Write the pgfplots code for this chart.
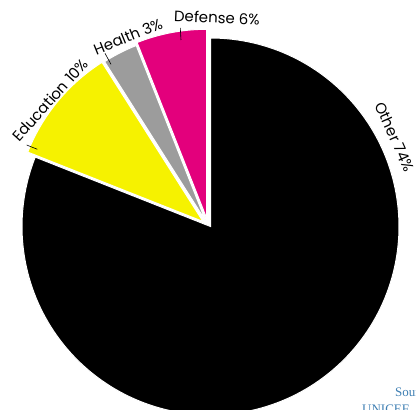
\documentclass[border=0pt]{standalone}
\usepackage{pgfplots}
\pgfplotsset{compat=1.18}
\usepackage{fontspec}
\setmainfont{Poppins}
\newfontfamily\srcfont{Liberation Serif}
\definecolor{pyellow}{HTML}{F6F200}
\definecolor{pmagenta}{HTML}{E3007C}
\definecolor{pgray}{HTML}{9C9C9C}
\definecolor{psrc}{HTML}{3F7FB3}
% shares of the pie (percent of the full circle as drawn)
\def\vDef{6}
\def\vHea{3}
\def\vEdu{10}
\pgfmathsetmacro{\aA}{90}
\pgfmathsetmacro{\aB}{\aA+3.6*\vDef}
\pgfmathsetmacro{\aC}{\aB+3.6*\vHea}
\pgfmathsetmacro{\aD}{\aC+3.6*\vEdu}
\pgfmathsetmacro{\aE}{450}
\def\R{188.5}
\begin{document}
\begin{tikzpicture}
\begin{axis}[
  width=416pt, height=410pt, scale only axis,
  xmin=0, xmax=416, ymin=0, ymax=410,
  hide axis, clip=true,
]
% Other (black)
\addplot[fill=black, draw=white, line width=1pt, domain=\aD:\aE, samples=180, variable=\t]
  ({210.5+\R*cos(\t)},{183.5+\R*sin(\t)}) -- (210.5,183.5) -- cycle;
% Defense (magenta)
\addplot[fill=pmagenta, draw=white, line width=1pt, domain=\aA:\aB, samples=40, variable=\t]
  ({206.5+\R*cos(\t)},{192.2+\R*sin(\t)}) -- (206.5,192.2) -- cycle;
% Health (gray)
\addplot[fill=pgray, draw=white, line width=1pt, domain=\aB:\aC, samples=30, variable=\t]
  ({205.6+\R*cos(\t)},{189.2+\R*sin(\t)}) -- (205.6,189.2) -- cycle;
% Education (yellow)
\addplot[fill=pyellow, draw=white, line width=1pt, domain=\aC:\aD, samples=50, variable=\t]
  ({203+\R*cos(\t)},{188.5+\R*sin(\t)}) -- (203,188.5) -- cycle;
% leader lines
\addplot[black, line width=0.6pt] coordinates {(26.7,265) (37.3,260.7)};
\addplot[black, line width=0.6pt] coordinates {(105,356.7) (111,345.7)};
\addplot[black, line width=0.6pt] coordinates {(180.3,382) (181,370)};
% labels
\node[rotate=-2.5, font=\fontsize{15}{17}\selectfont] at (217,392.5) {Defense 6\%};
\node[rotate=22, font=\fontsize{15}{17}\selectfont] at (128,373.5) {Health 3\%};
\node[rotate=48, font=\fontsize{15}{17}\selectfont] at (50,310) {Education 10\%};
\node[rotate=-66, font=\fontsize{15}{17}\selectfont] at (395,273) {Other 74\%};
% source
\node[anchor=base west, text=psrc, font=\srcfont\fontsize{13}{15}\selectfont, inner sep=0pt] at (395,13) {Source:};
\node[anchor=base west, text=psrc, font=\srcfont\fontsize{13}{15}\selectfont, inner sep=0pt] at (362,-4) {UNICEF};
\end{axis}
\pgfresetboundingbox
\useasboundingbox (0,0) rectangle (416pt,410pt);
\end{tikzpicture}
\end{document}
